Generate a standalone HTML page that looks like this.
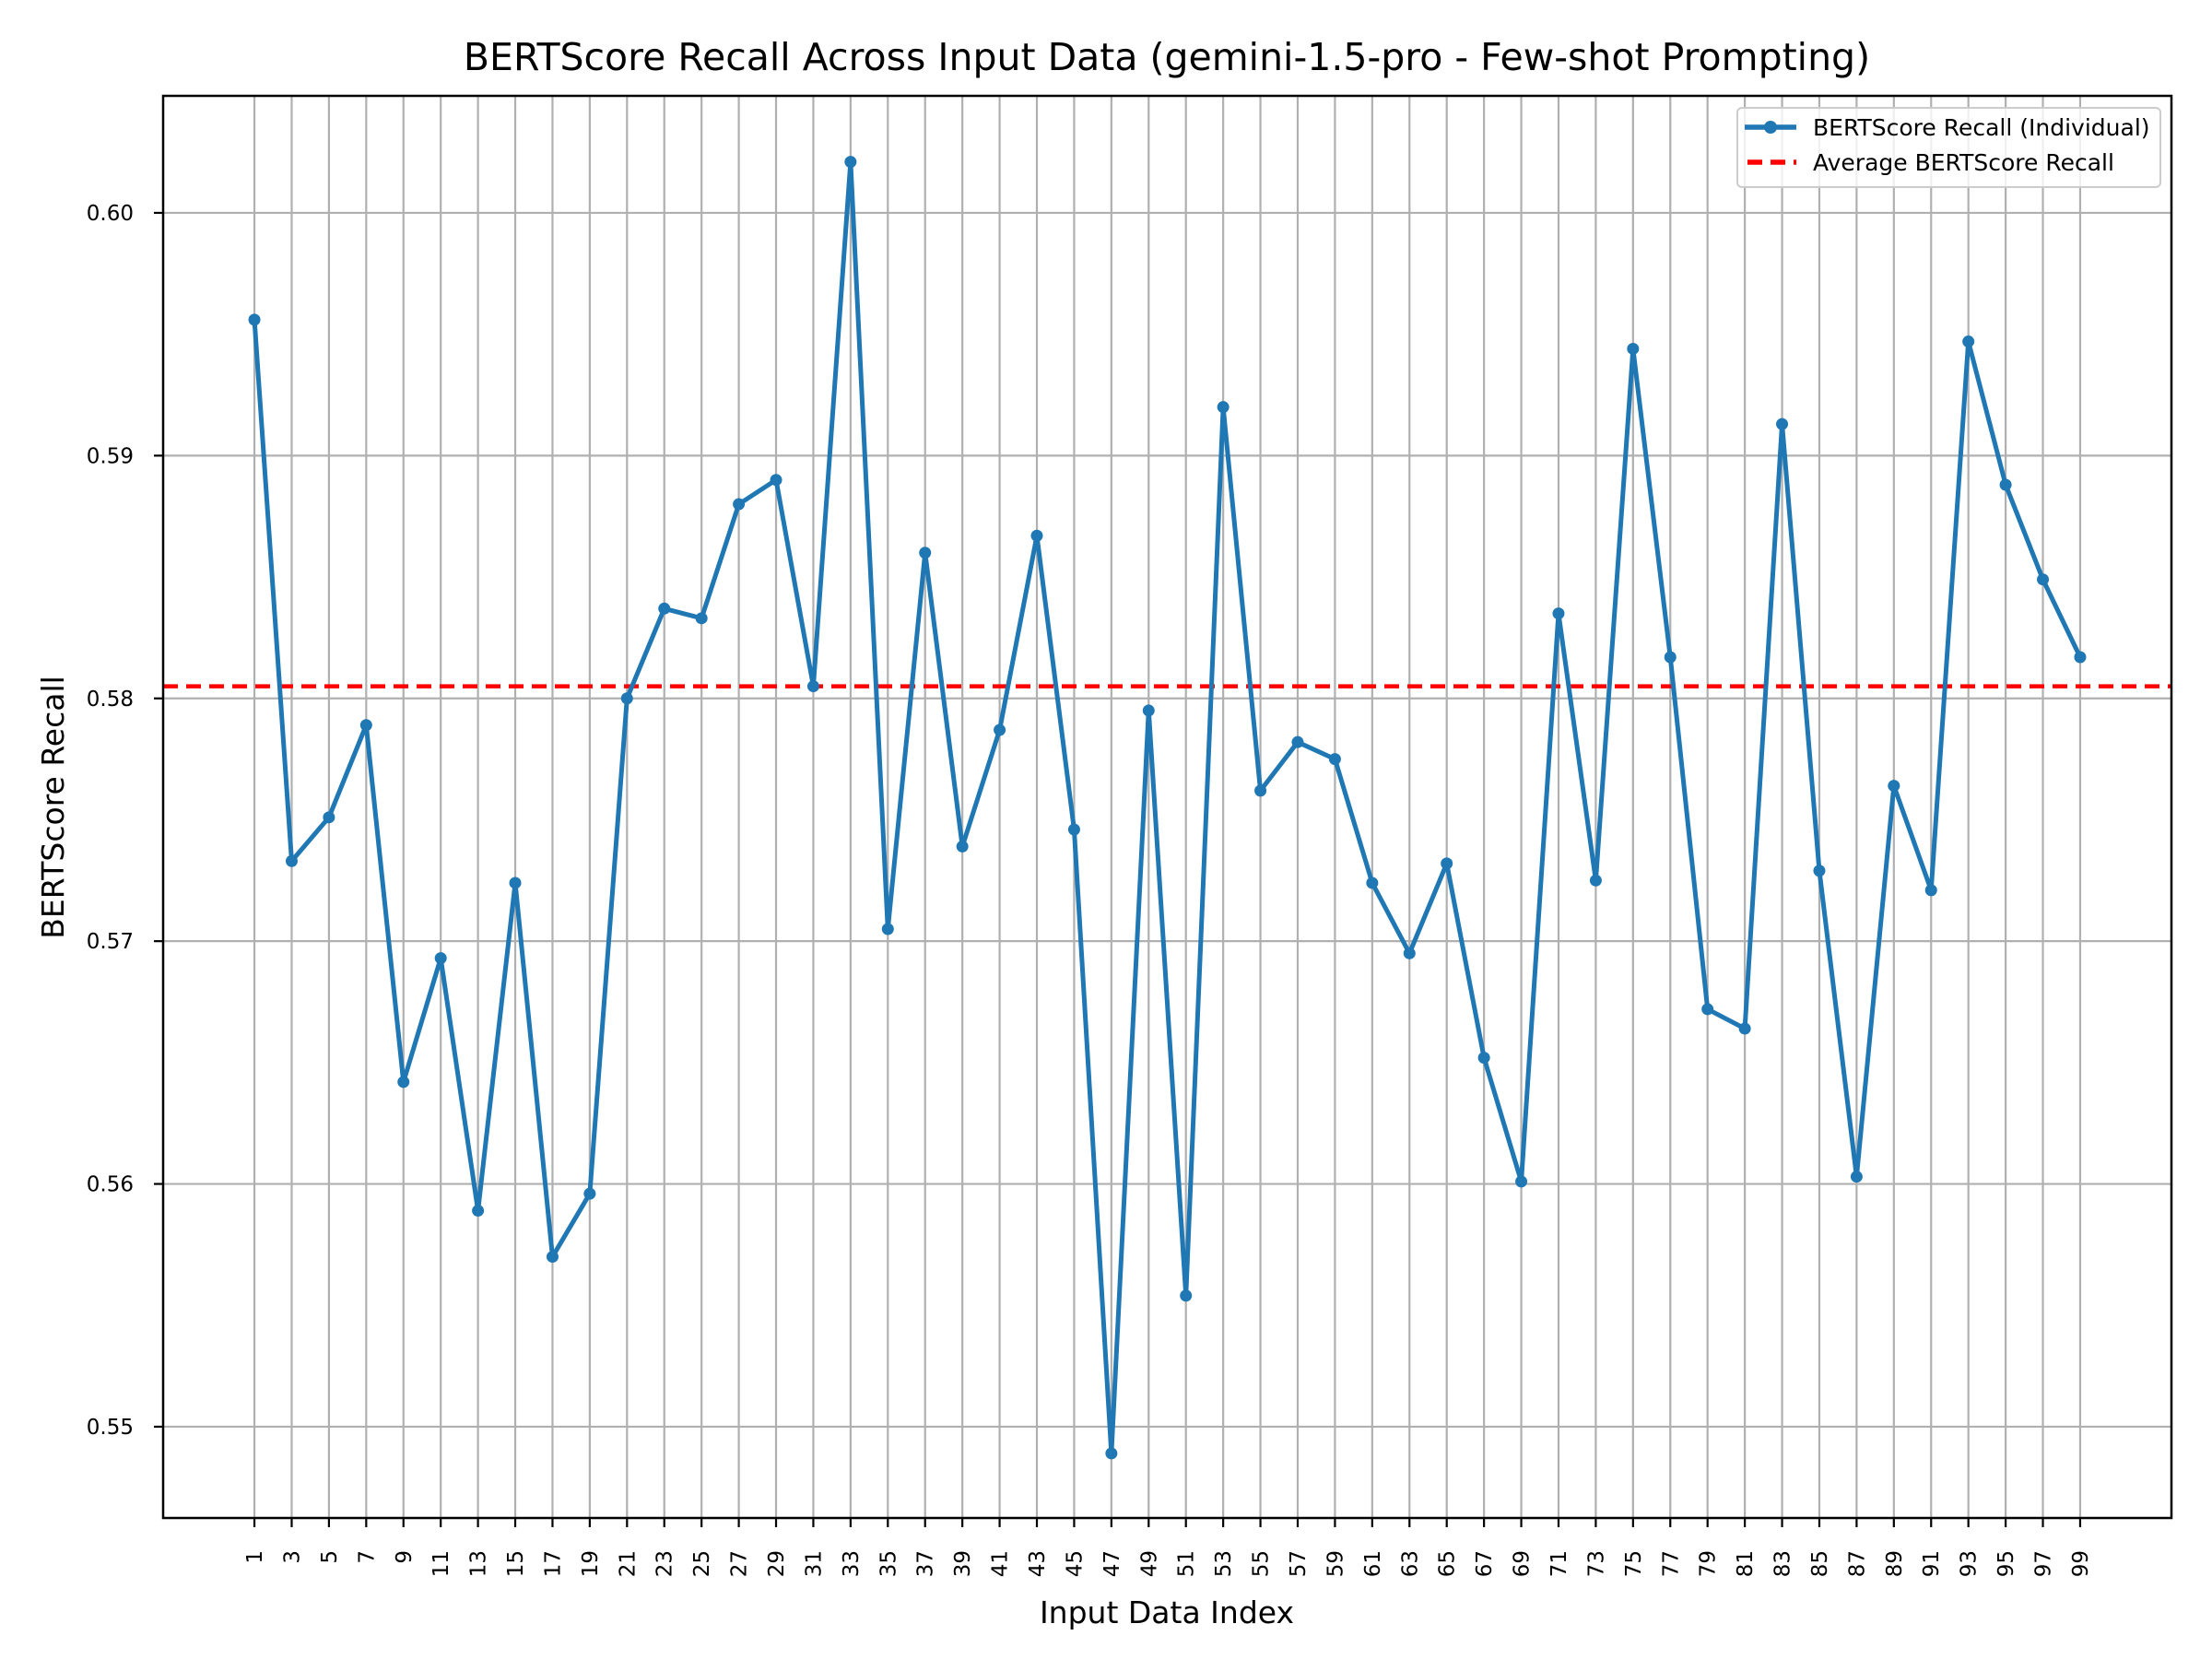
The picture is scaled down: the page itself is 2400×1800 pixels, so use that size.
<!DOCTYPE html>
<html><head><meta charset="utf-8"><style>
html,body{margin:0;padding:0;background:#fff}
svg{display:block;font-family:"DejaVu Sans","Liberation Sans",sans-serif}
</style></head><body>
<svg id="chart" width="2400" height="1800" viewBox="0 0 2400 1800" xmlns="http://www.w3.org/2000/svg">
<rect x="0" y="0" width="2400" height="1800" fill="#fff"/>
<g id="grid"></g>
<g id="avg"></g>
<g id="series"></g>
<rect x="177" y="104" width="2179" height="1543" fill="none" stroke="#000" stroke-width="2.5"/>
<g id="xticks"></g>
<g id="yticks"></g>
<text x="1266" y="76" font-size="41" text-anchor="middle">BERTScore Recall Across Input Data (gemini-1.5-pro - Few-shot Prompting)</text>
<text x="1266" y="1761" font-size="33" text-anchor="middle">Input Data Index</text>
<text x="0" y="0" font-size="33" text-anchor="middle" transform="translate(69,876) rotate(-90)">BERTScore Recall</text>
<g>
<rect x="1885" y="117" width="459" height="86" rx="5" fill="#fff" fill-opacity="0.8" stroke="#ccc" stroke-width="2"/>
<g>
<line x1="1893" y1="138" x2="1949" y2="138" stroke="#1f77b4" stroke-width="5.5"/>
<circle cx="1921" cy="138" r="7" fill="#1f77b4"/>
<text x="1967" y="147" font-size="25">BERTScore Recall (Individual)</text>
</g>
<g>
<line x1="1896" y1="176" x2="1949" y2="176" stroke="#ff0000" stroke-width="5.5" stroke-dasharray="16,9"/>
<text x="1967" y="185" font-size="25">Average BERTScore Recall</text>
</g>
</g>
</svg>
<script>
const xIndex = [1,3,5,7,9,11,13,15,17,19,21,23,25,27,29,31,33,35,37,39,41,43,45,47,49,51,53,55,57,59,61,63,65,67,69,71,73,75,77,79,81,83,85,87,89,91,93,95,97,99];
const recall = [0.5956,0.5733,0.5751,0.5789,0.5642,0.5693,0.5589,0.5724,0.5570,0.5596,0.5800,0.5837,0.5833,0.5880,0.5890,0.5805,0.6021,0.5705,0.5860,0.5739,0.5787,0.5867,0.5746,0.5489,0.5795,0.5554,0.5920,0.5762,0.5782,0.5775,0.5724,0.5695,0.5732,0.5652,0.5601,0.5835,0.5725,0.5944,0.5817,0.5672,0.5664,0.5913,0.5729,0.5603,0.5764,0.5721,0.5947,0.5888,0.5849,0.5817];
const averageRecall = [0.5805];
const yTicks = [0.55,0.56,0.57,0.58,0.59,0.60];
const yTickLabels = ["0.55","0.56","0.57","0.58","0.59","0.60"];

const NS='http://www.w3.org/2000/svg';
const X0=177, X1=2356, Y0=104, Y1=1647;
const xMin=-3.9, xMax=103.9, yMin=0.54624, yMax=0.60482;
function sx(v){return X0+(v-xMin)/(xMax-xMin)*(X1-X0);}
function sy(v){return Y1-(v-yMin)/(yMax-yMin)*(Y1-Y0);}
function mk(tag,attrs,parent){const e=document.createElementNS(NS,tag);for(const k in attrs)e.setAttribute(k,attrs[k]);parent.appendChild(e);return e;}
const grid=document.getElementById('grid'),xt=document.getElementById('xticks'),yt=document.getElementById('yticks');
xIndex.forEach(v=>{
  const x=sx(v);
  const g=mk('line',{x1:x,y1:Y0,x2:x,y2:Y1,stroke:'#b0b0b0','stroke-width':2.2},grid);
  
  
  const t=mk('line',{x1:x,y1:Y1,x2:x,y2:Y1+10,stroke:'#000','stroke-width':2.2},xt);
  
  
  const l=mk('text',{x:0,y:0,'font-size':23,'text-anchor':'end',transform:`translate(${x+8},${Y1+35}) rotate(-90)`},xt);
  l.textContent=String(v);
  
  
});
yTicks.forEach((v,i)=>{
  const y=sy(v);
  const g=mk('line',{x1:X0,y1:y,x2:X1,y2:y,stroke:'#b0b0b0','stroke-width':2.2},grid);
  
  
  const t=mk('line',{x1:X0-10,y1:y,x2:X0,y2:y,stroke:'#000','stroke-width':2.2},yt);
  
  
  const l=mk('text',{x:X0-32,y:y+8,'font-size':23,'text-anchor':'end'},yt);
  l.textContent=yTickLabels[i];
  
  
});
const avgG=document.getElementById('avg');
const ay=sy(averageRecall[0]);
const al=mk('line',{x1:X0,y1:ay,x2:X1,y2:ay,stroke:'#ff0000','stroke-width':4.5,'stroke-dasharray':'16,9'},avgG);


const sg=document.getElementById('series');
const pts=xIndex.map((v,i)=>sx(v)+','+sy(recall[i])).join(' ');
const pl=mk('polyline',{points:pts,fill:'none',stroke:'#1f77b4','stroke-width':5,'stroke-linejoin':'round'},sg);


xIndex.forEach((v,i)=>{
  const c=mk('circle',{cx:sx(v),cy:sy(recall[i]),r:6.5,fill:'#1f77b4'},sg);
  
  
});
</script>
</body></html>
